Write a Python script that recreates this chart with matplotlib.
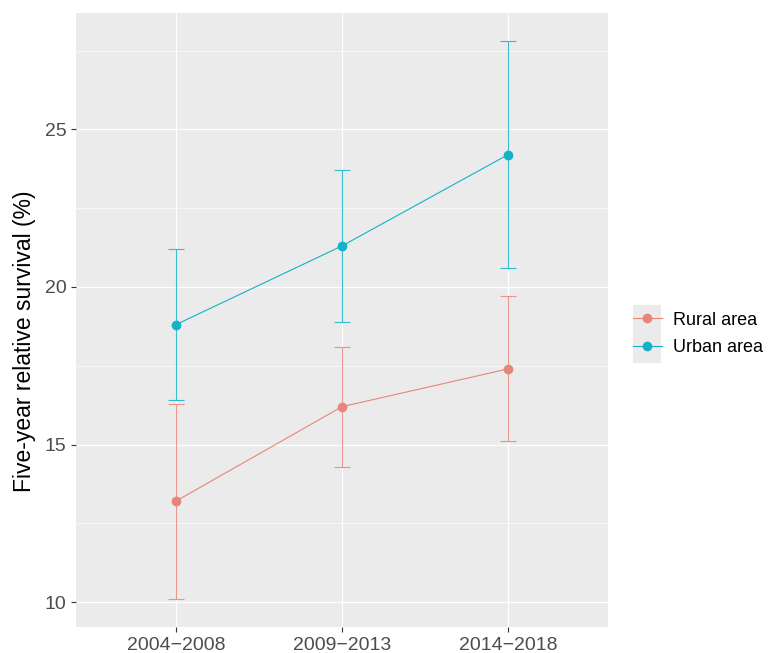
import matplotlib.pyplot as plt
from matplotlib.patches import Rectangle

# Data
periods = ["2004\u22122008", "2009\u22122013", "2014\u22122018"]
rural = [13.2, 16.2, 17.4]
rural_lo = [10.1, 14.3, 15.1]
rural_hi = [16.3, 18.1, 19.7]
urban = [18.8, 21.3, 24.2]
urban_lo = [16.4, 18.9, 20.6]
urban_hi = [21.2, 23.7, 27.8]

plt.rcParams["font.family"] = ["Liberation Sans", "DejaVu Sans"]

fig = plt.figure(figsize=(7.71, 6.53), dpi=100)
ax = fig.add_axes([76 / 771, 26 / 653, 532 / 771, 614 / 653])
ax.set_facecolor("#EBEBEB")

x = list(range(len(periods)))
handles = []
for vals, lo, hi, col, lab in [
    (rural, rural_lo, rural_hi, "#E8857A", "Rural area"),
    (urban, urban_lo, urban_hi, "#14B2C8", "Urban area"),
]:
    err = [[v - l for v, l in zip(vals, lo)], [h - v for v, h in zip(vals, hi)]]
    ax.errorbar(x, vals, yerr=err, fmt="none", ecolor=col, elinewidth=0.8,
                capsize=5.8, capthick=0.8, alpha=0.85, zorder=3)
    h, = ax.plot(x, vals, "-o", color=col, lw=0.8, markersize=6, zorder=4, label=lab)
    handles.append(h)

ax.set_xlim(-0.6, 2.6)
ax.set_ylim(9.21, 28.69)
ax.set_xticks(x)
ax.set_xticklabels(periods)
ax.set_yticks([10, 15, 20, 25])
ax.set_yticks([12.5, 17.5, 22.5, 27.5], minor=True)
ax.grid(True, which="major", color="white", lw=0.9)
ax.grid(True, which="minor", color="white", lw=0.45)
ax.set_axisbelow(True)
for s in ax.spines.values():
    s.set_visible(False)
ax.tick_params(which="major", length=3.5, color="#333333", labelsize=14,
               labelcolor="#4D4D4D", width=0.8)
ax.tick_params(which="minor", length=0)
ax.set_ylabel("Five-year relative survival (%)", fontsize=16.5, color="black")
ax.yaxis.set_label_coords(-0.076, 0.465)

# legend with grey key background
fig.patches.append(Rectangle((633 / 771, 1 - 363 / 653), 28 / 771, 58 / 653,
                             transform=fig.transFigure, facecolor="#EBEBEB",
                             edgecolor="none", zorder=0))
fig.legend(handles=handles, loc="center left", bbox_to_anchor=(633 / 771, 1 - 334 / 653),
           frameon=False, fontsize=13, handlelength=1.6, handletextpad=0.6,
           labelspacing=0.6, borderpad=0, borderaxespad=0)

fig.savefig("out.png", dpi=100)
